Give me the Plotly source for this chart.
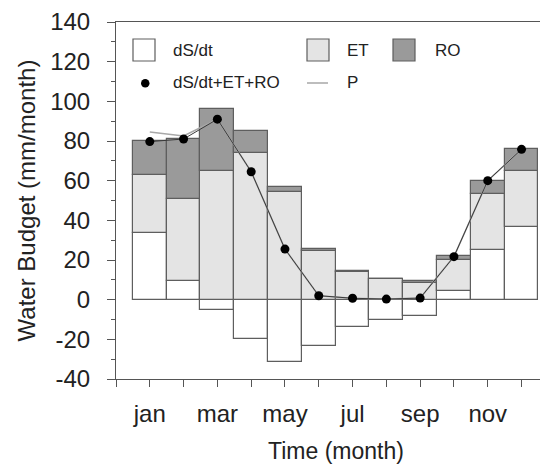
import plotly.graph_objects as go

# ---- data ----
months = list(range(1, 13))
x_tick_vals = list(range(0, 14))
x_tick_text = ["", "jan", "", "mar", "", "may", "", "jul", "", "sep", "", "nov", "", ""]
y_tick_vals = [-40, -20, 0, 20, 40, 60, 80, 100, 120, 140]
y_tick_text = ["-40", "-20", "0", "20", "40", "60", "80", "100", "120", "140"]
dsdt = [33.5, 9.5, -5.0, -20.0, -31.5, -23.5, -13.6, -10.2, -8.3, 4.5, 25.0, 36.5]
et = [29.5, 41.5, 65.0, 74.0, 54.5, 24.5, 14.1, 10.4, 8.6, 15.5, 28.5, 28.5]
ro = [17.0, 30.0, 31.0, 11.0, 2.5, 1.0, 0.3, 0.2, 0.8, 2.0, 6.5, 11.0]
total = [79.7, 81.0, 91.0, 64.5, 25.5, 2.0, 0.7, 0.3, 0.8, 21.7, 60.0, 75.8]
precip = [84.5, 82.5, 91.0, 64.5, 25.5, 2.0, 0.7, 0.3, 0.8, 21.7, 60.0, 75.8]

FONT = "Liberation Sans, Arial, sans-serif"
EDGE = "#5e5e5e"
C_DS = "#ffffff"
C_ET = "#e4e4e4"
C_RO = "#9a9a9a"

# page body has an 8px margin; figure coordinates = page coordinates - 8
OFF = 8
W, H = 548, 466
ML, MR, MT, MB = 108, 0, 14, 95

fig = go.Figure()
for name, vals, col in [("dS/dt", dsdt, C_DS), ("ET", et, C_ET), ("RO", ro, C_RO)]:
    fig.add_trace(go.Bar(x=months, y=vals, name=name, width=1.0,
                         marker=dict(color=col, line=dict(color=EDGE, width=1.2)),
                         showlegend=False))

fig.add_trace(go.Scatter(x=months, y=precip, name="P", mode="lines",
                         line=dict(color="#a8a8a8", width=1.6), showlegend=False))
fig.add_trace(go.Scatter(x=months, y=total, name="dS/dt+ET+RO", mode="lines+markers",
                         line=dict(color="#3a3a3a", width=1),
                         marker=dict(color="black", size=9), showlegend=False))

# ---- manual legend (page pixel -> paper helpers) ----
pw = W - ML - MR
ph = H - MT - MB
def px(x):
    return (x - OFF - ML) / pw
def py(y):
    return (H - MB - (y - OFF)) / ph

shapes = []
for x0, col in [(133, C_DS), (307, C_ET), (393, C_RO)]:
    shapes.append(dict(type="rect", xref="paper", yref="paper",
                       x0=px(x0), x1=px(x0 + 22), y0=py(61), y1=py(39),
                       fillcolor=col, line=dict(color=EDGE, width=1.2)))
shapes.append(dict(type="line", xref="paper", yref="paper",
                   x0=px(307), x1=px(328), y0=py(83), y1=py(83),
                   line=dict(color="#bdbdbd", width=2)))
shapes.append(dict(type="circle", xref="paper", yref="paper",
                   x0=px(141), x1=px(149.5), y0=py(87.5), y1=py(79),
                   fillcolor="black", line=dict(color="black", width=0)))

annotations = []
for x0, y0, txt in [(171, 50, "dS/dt"), (345, 50, "ET"), (433, 50, "RO"),
                    (171, 83, "dS/dt+ET+RO"), (345, 83, "P")]:
    annotations.append(dict(x=px(x0), y=py(y0), xref="paper", yref="paper",
                            text=txt, showarrow=False, xanchor="left", yanchor="middle",
                            font=dict(size=17, color="#222", family=FONT)))

fig.update_layout(
    width=W, height=H,
    margin=dict(l=ML, r=MR, t=MT, b=MB, pad=0, autoexpand=False),
    barmode="relative", bargap=0,
    plot_bgcolor="white", paper_bgcolor="white",
    font=dict(family=FONT, color="#222", size=24),
    shapes=shapes, annotations=annotations,
    showlegend=False,
)
fig.update_xaxes(range=[0, 13.02], tickmode="array", tickvals=x_tick_vals, ticktext=x_tick_text,
                 automargin=False,
                 showline=True, linecolor="#555", linewidth=1, mirror=True,
                 ticks="outside", ticklen=7, tickcolor="#555", tickwidth=1,
                 ticklabelstandoff=6, showgrid=False, zeroline=False,
                 tickfont=dict(size=24, color="#222"),
                 title=dict(text="Time (month)", standoff=17, font=dict(size=23, color="#222")))
fig.update_yaxes(range=[-40, 140], tickmode="array", tickvals=y_tick_vals, ticktext=y_tick_text,
                 automargin=False,
                 showline=True, linecolor="#555", linewidth=1,
                 ticks="outside", ticklen=8, tickcolor="#555", tickwidth=1,
                 minor=dict(ticks="outside", ticklen=4, tickvals=list(range(-30, 140, 20)),
                            tickcolor="#555", showgrid=False),
                 ticklabelstandoff=12, showgrid=False, zeroline=False,
                 tickfont=dict(size=24, color="#222"),
                 title=dict(text="Water Budget (mm/month)", standoff=7, font=dict(size=24, color="#222")))

fig.write_html("out.html")
